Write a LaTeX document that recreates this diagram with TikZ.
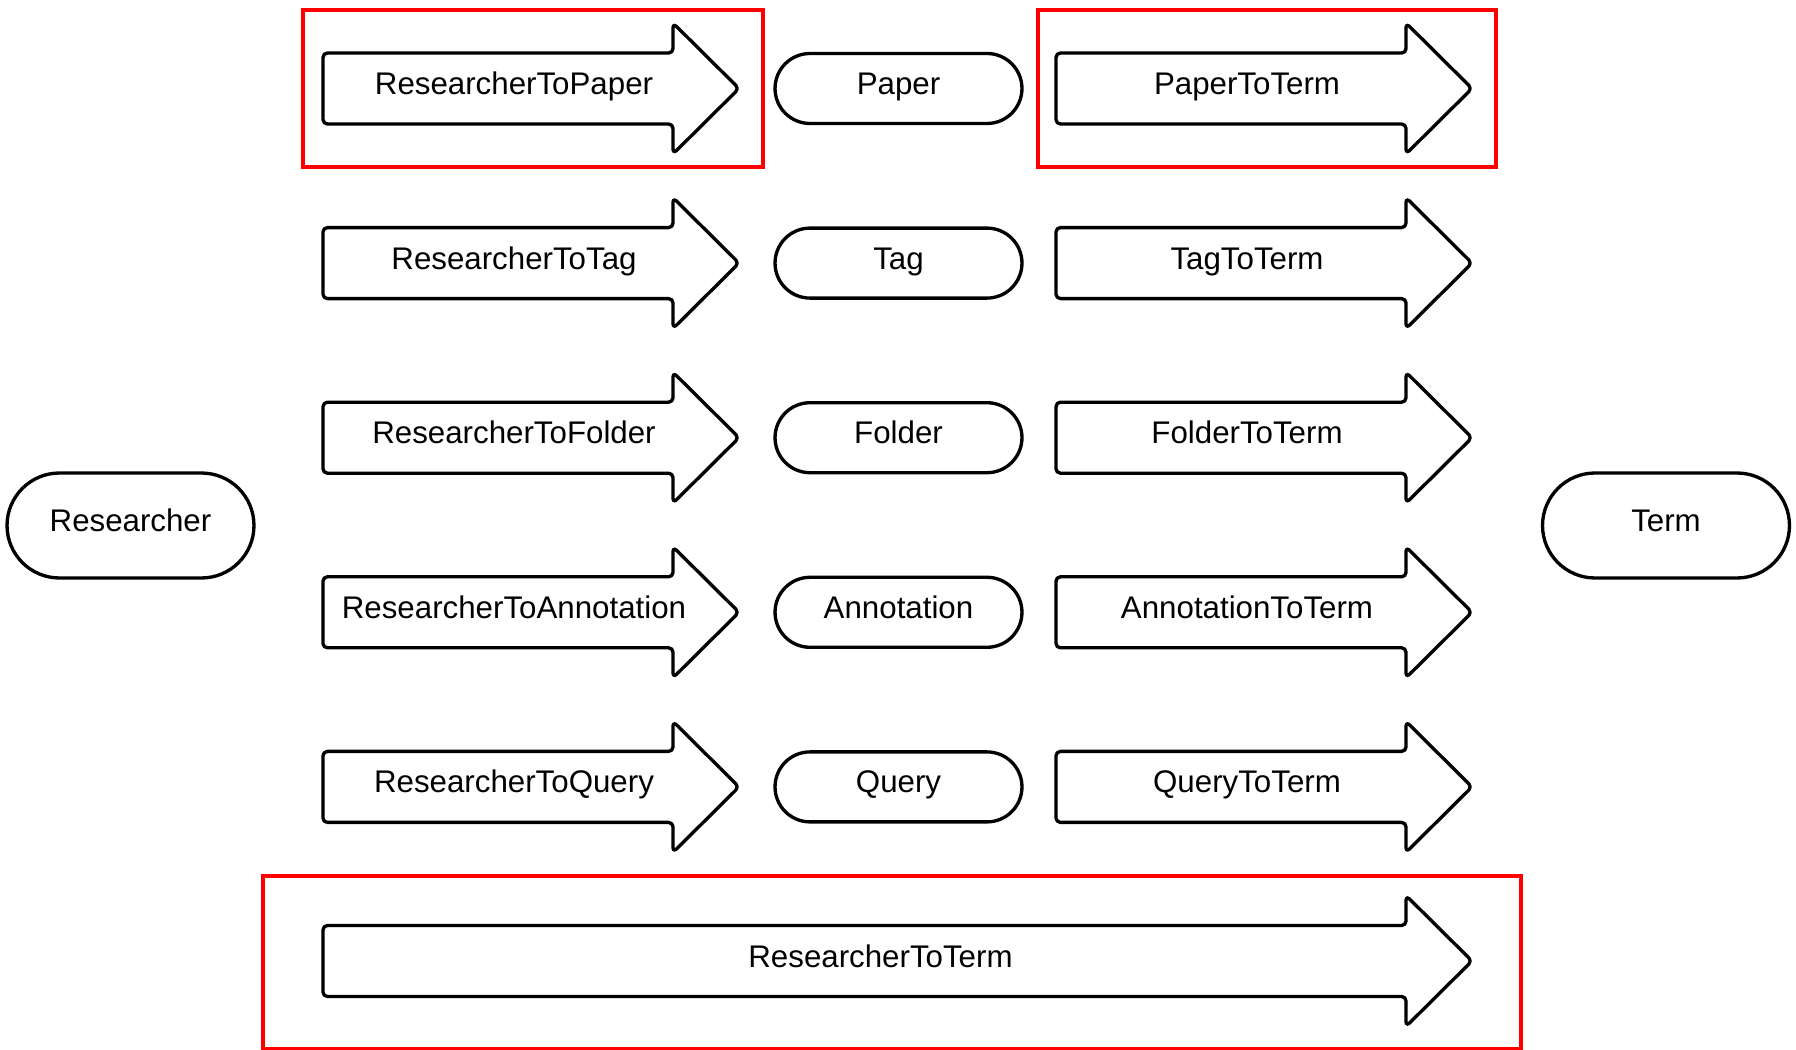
\documentclass[tikz,border=0pt]{standalone}
\usepackage{fontspec}
\setmainfont{Liberation Sans}
\usetikzlibrary{shapes.misc}

\tikzset{
    entity/.style={draw, line width=1.9pt, rounded rectangle, inner sep=0pt,
        minimum width=4.94cm, minimum height=1.4cm,
        font=\fontsize{17.8}{20}\selectfont, text height=12.8pt, text depth=5.9pt},
    bigentity/.style={entity, minimum height=2.1cm},
    arrowline/.style={draw, line width=1.9pt, rounded corners=2.5pt, line join=round},
    arrowtext/.style={inner sep=0pt, font=\fontsize{17.8}{20}\selectfont,
        text height=12.8pt, text depth=5.9pt},
    highlight/.style={draw=red, line width=2.8pt}
}

% block arrow: name, tail x, centre y, length, label
\newcommand{\relblock}[5]{%
    \draw[arrowline] (#2,#3-35.5) -- (#2+#4-66,#3-35.5) -- (#2+#4-66,#3-65.5)
        -- (#2+#4,#3) -- (#2+#4-66,#3+65.5) -- (#2+#4-66,#3+35.5)
        -- (#2,#3+35.5) -- cycle;
    \node[arrowtext] (#1) at (#2+#4/2-17,#3) {#5};}

\begin{document}
\begin{tikzpicture}[x=0.02cm, y=-0.02cm]
    \useasboundingbox (0,0) rectangle (1796,1050);

    % end points
    \node[bigentity] (researcher) at (130.5,525.5) {Researcher};
    \node[bigentity] (term) at (1666,525.5) {Term};

    % middle column
    \node[entity] (paper) at (898.5,88.5) {Paper};
    \node[entity] (tag) at (898.5,263.1) {Tag};
    \node[entity] (folder) at (898.5,437.7) {Folder};
    \node[entity] (annotation) at (898.5,612.3) {Annotation};
    \node[entity] (query) at (898.5,786.9) {Query};

    % researcher side
    \relblock{rpaper}{323}{88.5}{416}{ResearcherToPaper}
    \relblock{rtag}{323}{263.1}{416}{ResearcherToTag}
    \relblock{rfolder}{323}{437.7}{416}{ResearcherToFolder}
    \relblock{rannot}{323}{612.3}{416}{ResearcherToAnnotation}
    \relblock{rquery}{323}{786.9}{416}{ResearcherToQuery}

    % term side
    \relblock{pterm}{1056}{88.5}{416}{PaperToTerm}
    \relblock{tterm}{1056}{263.1}{416}{TagToTerm}
    \relblock{fterm}{1056}{437.7}{416}{FolderToTerm}
    \relblock{aterm}{1056}{612.3}{416}{AnnotationToTerm}
    \relblock{qterm}{1056}{786.9}{416}{QueryToTerm}

    % direct
    \relblock{rterm}{323}{961}{1149}{ResearcherToTerm}

    % highlights
    \draw[highlight] (303,10) rectangle (763,167);
    \draw[highlight] (1038,10) rectangle (1496,167);
    \draw[highlight] (263,876) rectangle (1521,1049);
\end{tikzpicture}
\end{document}
